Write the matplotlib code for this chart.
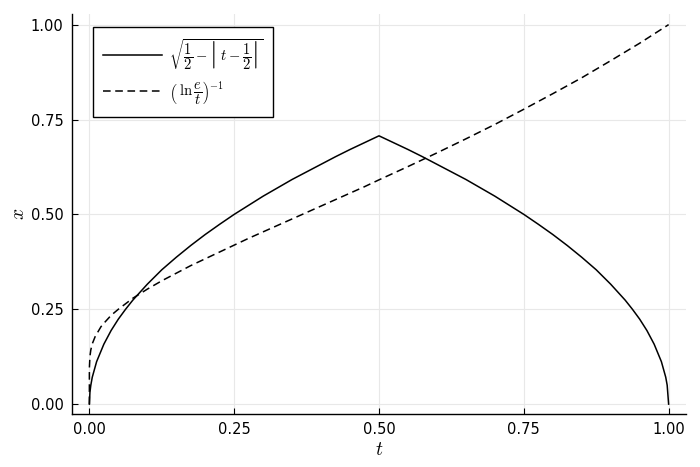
import numpy as np
import matplotlib.pyplot as plt

plt.rcParams['mathtext.fontset'] = 'cm'
plt.rcParams['font.family'] = ['DejaVu Sans']

# sqrt(1/2 - |t - 1/2|)
t_root = [0.0, 0.001, 0.0025, 0.005, 0.0125, 0.025, 0.0375, 0.05, 0.0625, 0.075, 0.1, 0.125, 0.15, 0.175,
          0.2, 0.225, 0.25, 0.275, 0.3, 0.325, 0.35, 0.375, 0.4, 0.425, 0.45, 0.475, 0.5,
          0.525, 0.55, 0.575, 0.6, 0.625, 0.65, 0.675, 0.7, 0.725, 0.75, 0.775, 0.8, 0.825,
          0.85, 0.875, 0.9, 0.925, 0.9375, 0.95, 0.9625, 0.975, 0.9875, 0.995, 0.9975, 1.0]
x_root = [0.0, 0.032, 0.05, 0.071, 0.112, 0.158, 0.194, 0.224, 0.25, 0.274, 0.316, 0.354, 0.387, 0.418,
          0.447, 0.474, 0.5, 0.524, 0.548, 0.570, 0.592, 0.612, 0.632, 0.652, 0.671, 0.689, 0.707,
          0.689, 0.671, 0.652, 0.632, 0.612, 0.592, 0.570, 0.548, 0.524, 0.5, 0.474, 0.447, 0.418,
          0.387, 0.354, 0.316, 0.274, 0.25, 0.224, 0.194, 0.158, 0.112, 0.071, 0.05, 0.0]

# (ln(e/t))^-1
t_log = [0.0, 0.00001, 0.0001, 0.001, 0.0025, 0.005, 0.01, 0.02, 0.025, 0.0375, 0.05, 0.075, 0.1, 0.125,
         0.15, 0.175, 0.2, 0.225, 0.25, 0.275, 0.3, 0.325, 0.35, 0.375, 0.4, 0.425, 0.45, 0.475, 0.5,
         0.55, 0.6, 0.65, 0.7, 0.75, 0.8, 0.85, 0.9, 0.95, 1.0]
x_log = [0.0, 0.080, 0.098, 0.1265, 0.143, 0.159, 0.178, 0.204, 0.213, 0.234, 0.250, 0.279, 0.303, 0.325,
         0.345, 0.365, 0.383, 0.401, 0.419, 0.437, 0.454, 0.471, 0.488, 0.505, 0.522, 0.539, 0.556, 0.573, 0.591,
         0.626, 0.662, 0.699, 0.737, 0.777, 0.818, 0.860, 0.905, 0.951, 1.0]

ticks = [0.0, 0.25, 0.5, 0.75, 1.0]
tick_labels = ['0.00', '0.25', '0.50', '0.75', '1.00']

fig = plt.figure(figsize=(7, 4.67), dpi=100)
ax = fig.add_axes([72/700, 53/467, 614/700, 400/467])

ax.plot(t_root, x_root, color='black', lw=1.1,
        label=r'$\sqrt{\dfrac{1}{2}-\left|\;t-\dfrac{1}{2}\right|}$')
ax.plot(t_log, x_log, color='black', lw=1.1, ls=(0, (5, 3)),
        label=r'$\left(\;\ln\dfrac{e}{t}\right)^{-1}$')

ax.set_xlim(-0.03, 1.03)
ax.set_ylim(-0.026, 1.028)
ax.set_xticks(ticks)
ax.set_xticklabels(tick_labels)
ax.set_yticks(ticks)
ax.set_yticklabels(tick_labels)
ax.grid(True, color='#e8e8e8', lw=0.8)
ax.set_axisbelow(True)
for s in ['top', 'right']:
    ax.spines[s].set_visible(False)
for s in ['left', 'bottom']:
    ax.spines[s].set_linewidth(1.0)
ax.tick_params(direction='in', length=4, width=0.8, labelsize=10.5, pad=6)
ax.set_xlabel(r'$t$', fontsize=14, labelpad=2)
ax.set_ylabel(r'$x$', fontsize=14, labelpad=2)

leg = ax.legend(loc='upper left', bbox_to_anchor=(21/614, 1 - 13/400), borderaxespad=0,
                fontsize=10.5, fancybox=False, framealpha=1, edgecolor='black',
                handlelength=4.0, handletextpad=0.5, labelspacing=0.55, borderpad=0.7)
leg.get_frame().set_linewidth(1.0)

fig.savefig('out.png', dpi=100)
